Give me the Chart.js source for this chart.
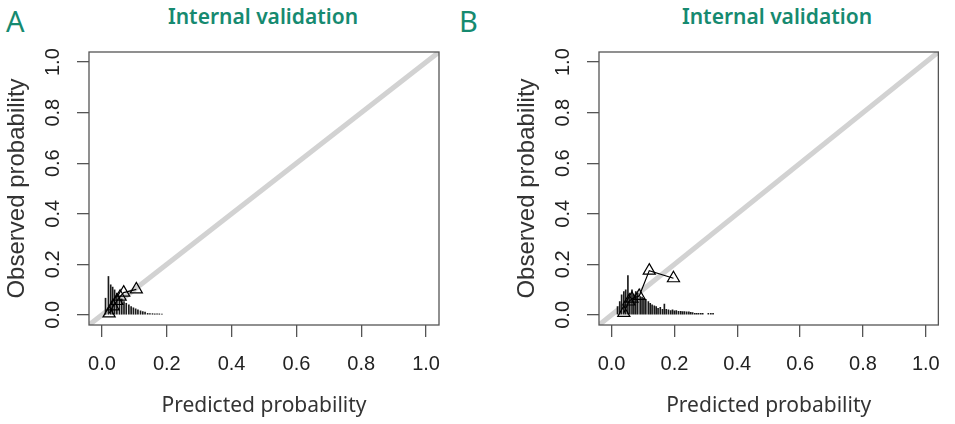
<!DOCTYPE html>
<html>
<head>
<meta charset="utf-8">
<script src="https://cdn.jsdelivr.net/npm/chart.js@4.4.1/dist/chart.umd.min.js"></script>
<style>
  html, body { margin: 0; padding: 0; background: #fff; }
  #wrap { position: relative; width: 955px; height: 424px; overflow: hidden; }
  canvas { position: absolute; top: 0; }
  .tag { position: absolute; color: #168a70; font-family: "Noto Sans", sans-serif; line-height: 1; white-space: nowrap; }
  .letter { font-size: 29px; font-weight: 400; top: 6px; }
  .title { font-size: 21px; font-weight: 600; top: 6px; transform: translateX(-50%); }
</style>
</head>
<body>
<div id="wrap">
  <div class="tag letter" style="left:6px">A</div>
  <div class="tag title" style="left:263px">Internal validation</div>
  <div class="tag letter" style="left:459px">B</div>
  <div class="tag title" style="left:777px">Internal validation</div>
  <canvas id="chartA" width="475" height="424" style="left:0px"></canvas>
  <canvas id="chartB" width="445" height="424" style="left:510px"></canvas>
</div>
<script>
// axis ticks (both axes, both panels)
const tickValues = [0, 0.2, 0.4, 0.6, 0.8, 1.0];
const axisMin = -0.04;
const axisMax = 1.04;

// panel A: spike histogram of predicted risk
const histAX = [0.011, 0.020, 0.027, 0.033, 0.039, 0.046, 0.054, 0.061, 0.068, 0.075, 0.083, 0.090, 0.097,
                0.104, 0.111, 0.119, 0.126, 0.133, 0.141, 0.148, 0.156, 0.163, 0.170, 0.177, 0.185];
const histAH = [0.066, 0.152, 0.119, 0.110, 0.099, 0.086, 0.073, 0.063, 0.053, 0.046, 0.040, 0.033, 0.028,
                0.024, 0.020, 0.016, 0.013, 0.011, 0.006, 0.005, 0.005, 0.004, 0.004, 0.004, 0.003];
// panel A: grouped observations
const groupAX = [0.022, 0.034, 0.046, 0.056, 0.067, 0.106];
const groupAY = [0.006, 0.034, 0.055, 0.072, 0.088, 0.101];

// panel B
const histBX = [0.019, 0.026, 0.032, 0.039, 0.045, 0.052, 0.058, 0.065, 0.071, 0.077, 0.083, 0.091, 0.097,
                0.103, 0.109, 0.117, 0.123, 0.129, 0.136, 0.142, 0.148, 0.155, 0.162, 0.168, 0.174, 0.181,
                0.188, 0.194, 0.200, 0.206, 0.213, 0.220, 0.226, 0.232, 0.239, 0.246, 0.252, 0.258, 0.265,
                0.271, 0.277, 0.284, 0.290, 0.308, 0.316, 0.323];
const histBH = [0.033, 0.053, 0.079, 0.092, 0.099, 0.156, 0.086, 0.099, 0.079, 0.092, 0.086, 0.072, 0.070,
                0.066, 0.062, 0.053, 0.046, 0.040, 0.036, 0.033, 0.026, 0.030, 0.022, 0.043, 0.022, 0.020,
                0.017, 0.020, 0.016, 0.017, 0.014, 0.014, 0.013, 0.013, 0.012, 0.012, 0.010, 0.009, 0.006,
                0.006, 0.006, 0.006, 0.006, 0.006, 0.006, 0.006];
const groupBX = [0.039, 0.055, 0.065, 0.088, 0.120, 0.197];
const groupBY = [0.008, 0.053, 0.064, 0.075, 0.175, 0.145];

const toPoints = (xs, ys) => xs.map((x, i) => ({x: x, y: ys[i]}));

const boxPlugin = {
  id: 'box',
  afterDatasetsDraw(chart) {
    const a = chart.chartArea;
    const ctx = chart.ctx;
    ctx.save();
    ctx.strokeStyle = '#555';
    ctx.lineWidth = 1.3;
    ctx.strokeRect(a.left, a.top, a.right - a.left, a.bottom - a.top);
    ctx.restore();
  }
};

function makeChart(id, histX, histH, groupX, groupY, padRight) {
  const tickFont = {family: '"Liberation Sans", Arial, sans-serif', size: 20};
  const common = {
    type: 'linear',
    min: axisMin,
    max: axisMax,
    offset: false,
    afterBuildTicks: s => { s.ticks = tickValues.map(v => ({value: v})); },
    border: {display: false},
    grid: {display: true, drawOnChartArea: false, drawTicks: true, tickLength: 12, color: '#555', lineWidth: 1.3, offset: false}
  };
  return new Chart(document.getElementById(id), {
    type: 'scatter',
    data: {
      datasets: [
        {
          type: 'line',
          data: [{x: axisMin, y: axisMin}, {x: axisMax, y: axisMax}],
          borderColor: '#d2d2d2',
          borderWidth: 5,
          pointRadius: 0,
          order: 3
        },
        {
          type: 'bar',
          data: toPoints(histX, histH),
          backgroundColor: '#1a1a1a',
          barThickness: 1,
          order: 2
        },
        {
          type: 'line',
          data: toPoints(groupX, groupY),
          borderColor: '#000',
          borderWidth: 1.2,
          pointStyle: 'triangle',
          pointRadius: 7,
          pointBorderWidth: 1.2,
          pointBorderColor: '#000',
          pointBackgroundColor: 'rgba(0,0,0,0)',
          tension: 0,
          order: 1
        }
      ]
    },
    options: {
      responsive: false,
      animation: false,
      devicePixelRatio: 1,
      layout: {padding: {left: 0, right: padRight, top: 52, bottom: 0}},
      plugins: {legend: {display: false}, tooltip: {enabled: false}},
      scales: {
        x: Object.assign({}, common, {
          position: 'bottom',
          afterFit: s => { s.height = 99; },
          ticks: {font: tickFont, color: '#222', padding: 15, maxRotation: 0, callback: v => v.toFixed(1)},
          title: {display: true, text: 'Predicted probability', color: '#333',
                  font: {family: '"Noto Sans", sans-serif', size: 21}, padding: {top: 0, bottom: 5}}
        }),
        y: Object.assign({}, common, {
          position: 'left',
          afterFit: s => { s.width = 89; },
          ticks: {font: tickFont, color: '#222', padding: 10,
                  minRotation: 90, maxRotation: 90, crossAlign: 'center', callback: v => v.toFixed(1)},
          title: {display: true, text: 'Observed probability', color: '#333',
                  font: {family: '"Liberation Sans", Arial, sans-serif', size: 24}, padding: {top: 3, bottom: 0}}
        })
      }
    },
    plugins: [boxPlugin]
  });
}

makeChart('chartA', histAX, histAH, groupAX, groupAY, 36);
makeChart('chartB', histBX, histBH, groupBX, groupBY, 6);
</script>
</body>
</html>
